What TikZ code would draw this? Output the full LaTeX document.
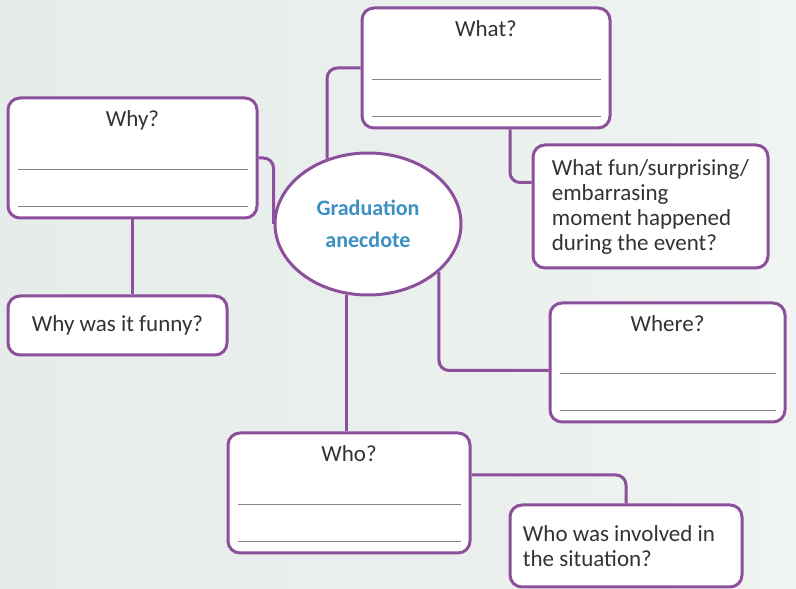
\documentclass[tikz,border=0pt]{standalone}
\usepackage{fontspec}
\setmainfont{Carlito}
\usetikzlibrary{shapes.geometric}

\definecolor{boxpurple}{HTML}{8C4F9C}
\definecolor{rulegray}{HTML}{858585}
\definecolor{centreblue}{HTML}{3C90C2}
\definecolor{labelgray}{HTML}{333333}
\definecolor{bgleft}{HTML}{E5ECE9}
\definecolor{bgright}{HTML}{EFF3F1}

\tikzset{
  qbox/.style={draw=boxpurple, line width=3pt, rounded corners=12pt, fill=white, inner sep=0pt},
  qtitle/.style={anchor=north, text=labelgray, font=\fontsize{23}{25}\selectfont},
  qtext/.style={qbox, align=left, text=labelgray, font=\fontsize{23}{25}\selectfont},
  answerline/.style={draw=rulegray, line width=1.6pt},
  link/.style={draw=boxpurple, line width=3pt, rounded corners=10pt},
}

\begin{document}
\begin{tikzpicture}[x=1pt,y=1pt]
\fill[left color=bgleft, right color=bgright] (0,0) rectangle (796,589);
\useasboundingbox (0,0) rectangle (796,589);

% centre
\node at (368,365) (grad) [ellipse, draw=boxpurple, line width=3pt, fill=white,
  minimum width=186, minimum height=142, align=center, text=centreblue,
  font=\bfseries\fontsize{22}{32}\selectfont] {Graduation\\anecdote};

% question boxes
\node at (486,521) (what) [qbox, minimum width=248, minimum height=120] {};
\node at (132.5,431) (why) [qbox, minimum width=249, minimum height=120] {};
\node at (667.5,226.5) (where) [qbox, minimum width=235, minimum height=119] {};
\node at (349,96) (who) [qbox, minimum width=242, minimum height=120] {};

\node[qtitle] (whattitle) at ([yshift=-11]what.north) {What?};
\node[qtitle] (whytitle) at ([yshift=-11]why.north) {Why?};
\node[qtitle] (wheretitle) at ([yshift=-11]where.north) {Where?};
\node[qtitle] (whotitle) at ([yshift=-11]who.north) {Who?};

\foreach \b in {what,why,where,who} {
  \draw[answerline] ([shift={(11,50)}]\b.south west) -- ([shift={(-11,50)}]\b.south east);
  \draw[answerline] ([shift={(11,13)}]\b.south west) -- ([shift={(-11,13)}]\b.south east);
}

% prompt boxes
\node at (650.5,382.5) (fun) [qtext, minimum width=235, minimum height=123]
  {What fun/surprising/\\embarrasing\\moment happened\\during the event?};
\node at (117.5,263.5) (funny) [qtext, minimum width=219, minimum height=59] {Why was it funny?};
\node at (626,43) (involved) [qtext, minimum width=232, minimum height=82, text depth=0pt,
  xshift=0pt] {\hspace*{-14pt}Who was involved in\\\hspace*{-14pt}the situation?};

% connectors
\draw[link] (grad.122) |- (what.west);
\draw[link] (why.east) -| (grad.west);
\draw[link] (grad.-34) |- ([yshift=-8]where.west);
\draw[link] (grad.-107) -- (grad.-107 |- who.north);
\draw[link] ([xshift=24]what.south) |- ([yshift=24]fun.west);
\draw[link] (why.south) -- (why.south |- funny.north);
\draw[link] ([yshift=18]who.east) -| (involved.north);
\end{tikzpicture}
\end{document}
